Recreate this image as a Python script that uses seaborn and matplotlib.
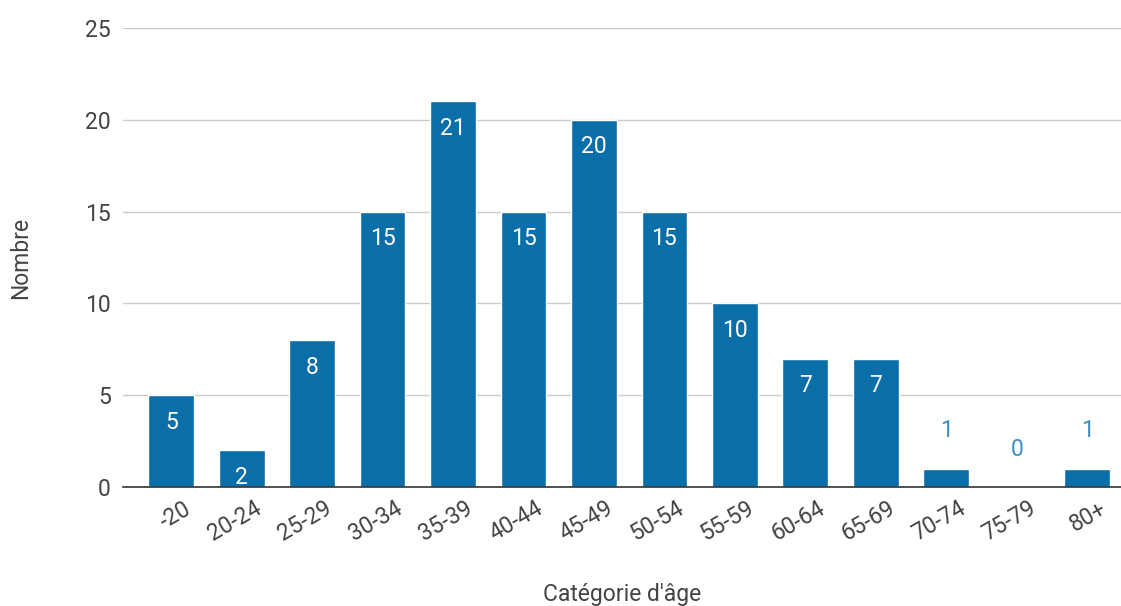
import matplotlib
matplotlib.use("Agg")
import matplotlib.pyplot as plt
import matplotlib.transforms as mtransforms
import seaborn as sns
import pandas as pd

categories = ["-20", "20-24", "25-29", "30-34", "35-39", "40-44", "45-49",
              "50-54", "55-59", "60-64", "65-69", "70-74", "75-79", "80+"]
values = [5, 2, 8, 15, 21, 15, 20, 15, 10, 7, 7, 1, 0, 1]

sns.set_theme(style="white")
plt.rcParams["font.family"] = ["Roboto", "DejaVu Sans"]

BAR = "#0a6fa8"
TXT = "#444444"
FS = 16.5

df = pd.DataFrame({"cat": categories, "val": values})

fig = plt.figure(figsize=(11.21, 6.06), dpi=100)
ax = fig.add_axes([0.110, 0.196, 0.890, 0.758])

sns.barplot(data=df, x="cat", y="val", color=BAR, saturation=1, width=0.65, ax=ax, zorder=3)

ax.set_ylim(0, 25)
ax.set_xlim(-0.68, 13.48)
ax.set_yticks([0, 5, 10, 15, 20, 25])
ax.yaxis.grid(True, color="#cccccc", linewidth=1, zorder=0)
ax.set_axisbelow(True)
for s in ["top", "right", "left"]:
    ax.spines[s].set_visible(False)
ax.spines["bottom"].set_color("#333333")
ax.spines["bottom"].set_linewidth(1.2)
ax.spines["bottom"].set_zorder(4)

ax.tick_params(axis="y", length=0, pad=9, labelsize=FS, labelcolor=TXT)
ax.tick_params(axis="x", length=0, pad=7, labelsize=FS, labelcolor=TXT)
offset = mtransforms.ScaledTranslation(12 / 100, 0, fig.dpi_scale_trans)
for lab in ax.get_xticklabels():
    lab.set_rotation(30)
    lab.set_ha("right")
    lab.set_rotation_mode("anchor")
    lab.set_transform(lab.get_transform() + offset)

ax.set_xlabel("Catégorie d'âge", fontsize=FS, color=TXT, labelpad=27)
ax.set_ylabel("Nombre", fontsize=FS, color=TXT, labelpad=38)

for i, v in enumerate(values):
    if v >= 2:
        ax.annotate(str(v), (i, v), xytext=(0, -11), textcoords="offset points",
                    ha="center", va="top", color="white", fontsize=FS)
    else:
        ax.annotate(str(v), (i, v), xytext=(0, 19), textcoords="offset points",
                    ha="center", va="bottom", color="#3a8fc4", fontsize=FS)

fig.savefig("out.png", dpi=100)
